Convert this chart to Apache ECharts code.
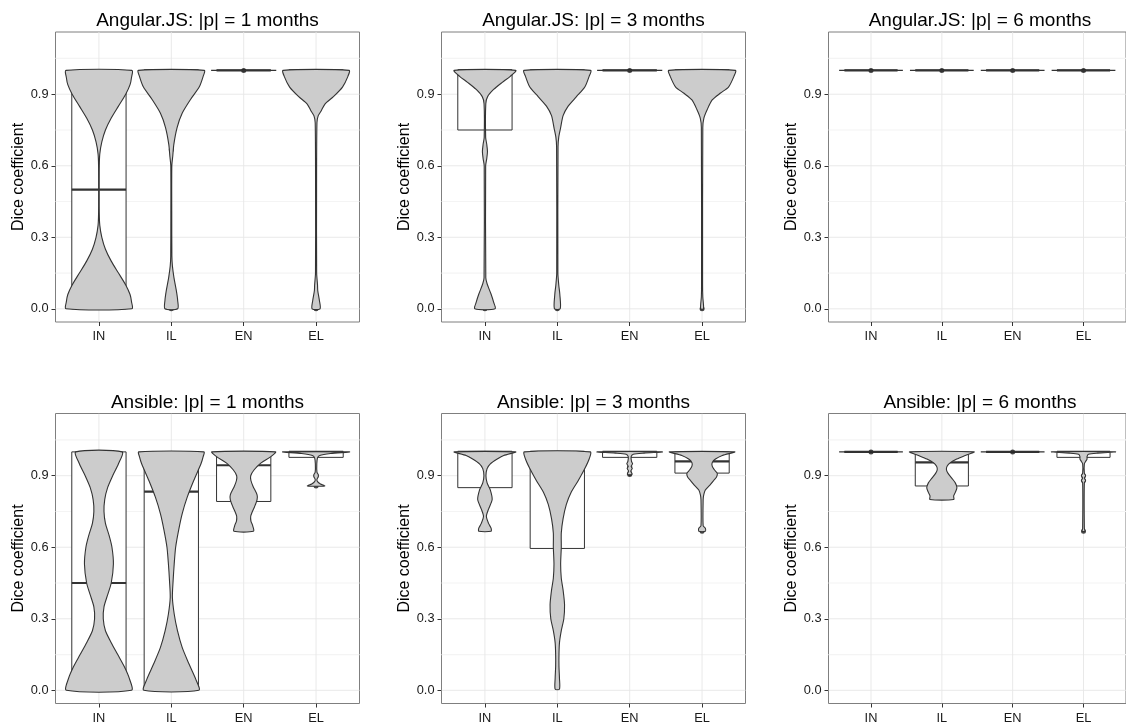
<!DOCTYPE html>
<html>
<head>
<meta charset="utf-8">
<script src="https://cdn.jsdelivr.net/npm/echarts@6/dist/echarts.min.js"></script>
<style>html,body{margin:0;padding:0;background:#fff}#c{width:1126px;height:725px}</style>
</head>
<body>
<div id="c"></div>
<script>
// ---------------- data ----------------
const categories = ['IN', 'IL', 'EN', 'EL'];
const panelTitles = [
  'Angular.JS: |p| = 1 months', 'Angular.JS: |p| = 3 months', 'Angular.JS: |p| = 6 months',
  'Ansible: |p| = 1 months', 'Ansible: |p| = 3 months', 'Ansible: |p| = 6 months'
];
const yTicks = [0, 0.3, 0.6, 0.9];
const yMinor = [0.15, 0.45, 0.75, 1.05];
const yAxisName = 'Dice coefficient';

// violin profiles: [value, half-width in category units]
const collapsed = [[1, 0.45], [1, 0.45]];

const violinAng1 = [
  [[0,0.455],[0.03,0.45],[0.06,0.43],[0.1,0.37],[0.15,0.27],[0.2,0.17],[0.25,0.09],[0.3,0.04],[0.35,0.012],[0.4,0.005],[0.5,0.004],[0.6,0.005],[0.65,0.012],[0.7,0.04],[0.75,0.09],[0.8,0.17],[0.85,0.27],[0.9,0.37],[0.94,0.43],[0.97,0.45],[1,0.455]],
  [[0,0.088],[0.035,0.088],[0.077,0.069],[0.13,0.037],[0.18,0.015],[0.22,0.008],[0.4,0.006],[0.6,0.007],[0.64,0.02],[0.69,0.035],[0.76,0.08],[0.82,0.15],[0.88,0.27],[0.93,0.385],[0.975,0.44],[1,0.455]],
  collapsed,
  [[0,0.055],[0.035,0.046],[0.077,0.023],[0.1,0.02],[0.15,0.008],[0.5,0.007],[0.78,0.012],[0.81,0.03],[0.83,0.07],[0.86,0.125],[0.89,0.24],[0.93,0.365],[0.975,0.44],[1,0.456]]
];
const violinAng3 = [
  [[0,0.14],[0.028,0.12],[0.063,0.083],[0.105,0.03],[0.13,0.012],[0.6,0.01],[0.63,0.025],[0.66,0.035],[0.69,0.025],[0.72,0.01],[0.86,0.012],[0.89,0.037],[0.92,0.12],[0.95,0.24],[0.975,0.35],[1,0.425]],
  [[0,0.04],[0.06,0.035],[0.1,0.02],[0.15,0.008],[0.68,0.01],[0.72,0.02],[0.76,0.046],[0.81,0.08],[0.85,0.15],[0.89,0.265],[0.93,0.38],[0.975,0.44],[1,0.46]],
  collapsed,
  [[0,0.02],[0.05,0.01],[0.1,0.007],[0.76,0.01],[0.8,0.025],[0.835,0.07],[0.876,0.14],[0.905,0.255],[0.93,0.365],[0.975,0.44],[1,0.46]]
];
const violinAng6 = [collapsed, collapsed, collapsed, collapsed];
const violinAns1 = [
  [[0,0.45],[0.05,0.42],[0.1,0.35],[0.15,0.26],[0.2,0.17],[0.25,0.09],[0.3,0.06],[0.35,0.07],[0.4,0.12],[0.45,0.17],[0.53,0.2],[0.6,0.18],[0.65,0.14],[0.7,0.09],[0.75,0.07],[0.8,0.08],[0.85,0.12],[0.9,0.19],[0.95,0.27],[1,0.32]],
  [[0,0.38],[0.045,0.34],[0.11,0.245],[0.18,0.15],[0.25,0.085],[0.32,0.04],[0.39,0.015],[0.46,0.025],[0.53,0.04],[0.6,0.06],[0.67,0.1],[0.74,0.15],[0.81,0.22],[0.88,0.31],[0.95,0.41],[0.98,0.44],[1,0.45]],
  [[0.667,0.135],[0.69,0.125],[0.71,0.1],[0.73,0.097],[0.75,0.12],[0.77,0.15],[0.8,0.185],[0.82,0.185],[0.855,0.13],[0.88,0.1],[0.9,0.097],[0.925,0.145],[0.953,0.236],[0.98,0.375],[1,0.44]],
  [[0.857,0.12],[0.865,0.06],[0.875,0.02],[0.885,0.012],[0.895,0.03],[0.905,0.03],[0.915,0.012],[0.95,0.01],[0.975,0.02],[0.985,0.05],[0.993,0.2],[1,0.46]]
];
const violinAns3 = [
  [[0.667,0.085],[0.68,0.085],[0.7,0.05],[0.73,0.02],[0.76,0.05],[0.8,0.1],[0.84,0.075],[0.87,0.03],[0.9,0.014],[0.93,0.03],[0.95,0.075],[0.97,0.17],[0.985,0.26],[1,0.425]],
  [[0.005,0.03],[0.05,0.03],[0.1,0.023],[0.15,0.023],[0.2,0.03],[0.25,0.055],[0.3,0.09],[0.36,0.1],[0.42,0.08],[0.47,0.055],[0.53,0.046],[0.6,0.055],[0.66,0.055],[0.72,0.08],[0.78,0.125],[0.83,0.19],[0.88,0.29],[0.93,0.38],[0.97,0.44],[1,0.455]],
  [[0.905,0.03],[0.91,0.03],[0.92,0.015],[0.93,0.035],[0.94,0.02],[0.95,0.04],[0.96,0.025],[0.98,0.02],[0.99,0.05],[0.995,0.2],[1,0.45]],
  [[0.667,0.045],[0.68,0.045],[0.69,0.015],[0.8,0.015],[0.82,0.023],[0.84,0.045],[0.86,0.105],[0.88,0.16],[0.895,0.2],[0.91,0.21],[0.925,0.17],[0.94,0.14],[0.955,0.14],[0.97,0.185],[0.985,0.28],[1,0.45]]
];
const violinAns6 = [
  collapsed,
  [[0.8,0.167],[0.815,0.167],[0.83,0.19],[0.85,0.213],[0.87,0.19],[0.89,0.14],[0.91,0.088],[0.925,0.065],[0.94,0.074],[0.955,0.12],[0.97,0.21],[0.985,0.33],[1,0.455]],
  collapsed,
  [[0.667,0.02],[0.68,0.012],[0.87,0.012],[0.88,0.03],[0.89,0.012],[0.9,0.03],[0.91,0.012],[0.95,0.012],[0.96,0.03],[0.97,0.05],[0.98,0.05],[0.99,0.07],[0.995,0.2],[1,0.45]]
];

// box stats per category: [q1, median, q3, whiskerLow, whiskerHigh]
const boxAng1 = [[0,0.5,1,0,1],[1,1,1,1,1],[1,1,1,1,1],[1,1,1,1,1]];
const boxAng3 = [[0.75,1,1,0.667,1],[1,1,1,1,1],[1,1,1,1,1],[1,1,1,1,1]];
const boxAng6 = [[1,1,1,1,1],[1,1,1,1,1],[1,1,1,1,1],[1,1,1,1,1]];
const boxAns1 = [[0,0.45,1,0,1],[0.005,0.833,1,0,1],[0.792,0.944,1,0.667,1],[0.977,1,1,0.955,1]];
const boxAns3 = [[0.85,1,1,0.667,1],[0.595,1,1,0.005,1],[0.977,1,1,0.955,1],[0.911,0.96,1,0.83,1]];
const boxAns6 = [[1,1,1,1,1],[0.857,0.956,1,0.8,1],[1,1,1,1,1],[0.977,1,1,0.95,1]];

// outliers: [category position (1..4), value]
const outAng1 = [[2,0],[2,0.667],[3,1],[4,0]];
const outAng3 = [[1,0],[2,0],[3,1],[4,0]];
const outAng6 = [[1,1],[2,1],[3,1],[4,1]];
const outAns1 = [[4,0.9],[4,0.857]];
const outAns3 = [[3,0.94],[3,0.93],[3,0.91],[3,0.905],[4,0.667]];
const outAns6 = [[1,1],[3,1],[4,0.9],[4,0.88],[4,0.667]];

// ---------------- layout ----------------
const panelViolins = [violinAng1, violinAng3, violinAng6, violinAns1, violinAns3, violinAns6];
const panelBoxes = [boxAng1, boxAng3, boxAng6, boxAns1, boxAns3, boxAns6];
const panelOutliers = [outAng1, outAng3, outAng6, outAns1, outAns3, outAns6];

const colLeft = [55.5, 441.5, 828.5];
const colWidth = [304, 304, 303];
const rowTop = [32, 413.5];
const panelH = 290;
const X_MIN = 0.4, X_MAX = 4.6;
const Y_MIN = -0.0553, Y_MAX = 1.161;
const FONT = '"Liberation Sans", Arial, Helvetica, sans-serif';

const grids = [], xAxes = [], yAxes = [], series = [], graphics = [];

for (let p = 0; p < 6; p++) {
  const r = Math.floor(p / 3), c = p % 3;
  grids.push({
    left: colLeft[c], top: rowTop[r], width: colWidth[c], height: panelH,
    show: true, borderColor: '#7f7f7f', borderWidth: 1, backgroundColor: '#ffffff'
  });
  xAxes.push({
    gridIndex: p, type: 'value', min: X_MIN, max: X_MAX, position: 'bottom',
    axisLine: { show: false, onZero: false },
    axisTick: { show: true, customValues: categories.map((_, i) => i + 1), length: 4, lineStyle: { color: '#333333', width: 1 } },
    axisLabel: { customValues: categories.map((_, i) => i + 1), formatter: v => categories[Math.round(v) - 1] || '', margin: 8, fontSize: 12.8, color: '#1a1a1a', fontFamily: FONT },
    splitLine: { show: false }
  });
  yAxes.push({
    gridIndex: p, type: 'value', min: Y_MIN, max: Y_MAX, position: 'left',
    axisLine: { show: false, onZero: false },
    axisTick: { show: true, customValues: yTicks, length: 4, lineStyle: { color: '#333333', width: 1 } },
    axisLabel: { customValues: yTicks, formatter: v => v.toFixed(1), margin: 7, fontSize: 12.8, color: '#1a1a1a', fontFamily: FONT },
    splitLine: { show: false },
    name: yAxisName, nameLocation: 'middle', nameGap: 27, nameRotate: 90,
    nameTextStyle: { fontSize: 16, color: '#000000', fontFamily: FONT }
  });

  // grid lines (drawn through the axes' scales)
  const lineData = yMinor.map(v => [0, v]).concat(yTicks.map(v => [1, v])).concat(categories.map((_, i) => [2, i + 1]));
  series.push({
    type: 'custom', xAxisIndex: p, yAxisIndex: p, z: 1, silent: true, clip: true,
    data: lineData,
    renderItem: function (params, api) {
      const kind = api.value(0), v = api.value(1);
      let a, b;
      if (kind === 2) { a = api.coord([v, Y_MIN]); b = api.coord([v, Y_MAX]); }
      else { a = api.coord([X_MIN, v]); b = api.coord([X_MAX, v]); }
      return {
        type: 'line', shape: { x1: a[0], y1: a[1], x2: b[0], y2: b[1] },
        style: { stroke: kind === 0 ? '#f4f4f4' : '#e6e6e6', lineWidth: kind === 0 ? 1.2 : 0.9 }
      };
    }
  });

  // boxes
  const boxes = panelBoxes[p];
  series.push({
    type: 'custom', xAxisIndex: p, yAxisIndex: p, z: 2, silent: true, clip: true,
    data: boxes.map((b, i) => [i + 1].concat(b)),
    renderItem: function (params, api) {
      const x = api.value(0), q1 = api.value(1), med = api.value(2), q3 = api.value(3), lo = api.value(4), hi = api.value(5);
      const bw = 0.375;
      const tl = api.coord([x - bw, q3]), br = api.coord([x + bw, q1]);
      const wt1 = api.coord([x, q3]), wt2 = api.coord([x, hi]);
      const wb1 = api.coord([x, q1]), wb2 = api.coord([x, lo]);
      const m1 = api.coord([x - bw, med]), m2 = api.coord([x + bw, med]);
      const stroke = '#333333';
      return {
        type: 'group', children: [
          { type: 'line', shape: { x1: wt1[0], y1: wt1[1], x2: wt2[0], y2: wt2[1] }, style: { stroke, lineWidth: 1 } },
          { type: 'line', shape: { x1: wb1[0], y1: wb1[1], x2: wb2[0], y2: wb2[1] }, style: { stroke, lineWidth: 1 } },
          { type: 'rect', shape: { x: tl[0], y: tl[1], width: br[0] - tl[0], height: br[1] - tl[1] }, style: { fill: '#ffffff', stroke, lineWidth: 1 } },
          { type: 'line', shape: { x1: m1[0], y1: m1[1], x2: m2[0], y2: m2[1] }, style: { stroke, lineWidth: 2.2 } }
        ]
      };
    }
  });

  // outliers
  series.push({
    type: 'scatter', xAxisIndex: p, yAxisIndex: p, z: 3, silent: true,
    symbol: 'circle', symbolSize: 5,
    itemStyle: { color: '#1a1a1a' },
    data: panelOutliers[p]
  });

  // violins
  const profiles = panelViolins[p];
  series.push({
    type: 'custom', xAxisIndex: p, yAxisIndex: p, z: 4, silent: true, clip: true,
    data: categories.map((_, i) => [i + 1, 1]),
    renderItem: function (params, api) {
      const cx = api.value(0);
      const prof = profiles[params.dataIndex];
      const pts = [];
      for (let k = 0; k < prof.length; k++) pts.push(api.coord([cx - prof[k][1], prof[k][0]]));
      for (let k = prof.length - 1; k >= 0; k--) pts.push(api.coord([cx + prof[k][1], prof[k][0]]));
      return {
        type: 'polygon', shape: { points: pts, smooth: 0.25 },
        style: { fill: '#cccccc', stroke: '#333333', lineWidth: 1.1 }
      };
    }
  });

  graphics.push({
    type: 'text', silent: true,
    x: colLeft[c] + colWidth[c] / 2, y: rowTop[r] - 11,
    style: { text: panelTitles[p], textAlign: 'center', textVerticalAlign: 'middle', fontSize: 19, fill: '#000000', fontFamily: FONT }
  });
}

const chart = echarts.init(document.getElementById('c'), null, { renderer: 'canvas' });
chart.setOption({
  animation: false,
  backgroundColor: '#ffffff',
  textStyle: { fontFamily: FONT },
  grid: grids, xAxis: xAxes, yAxis: yAxes, series: series,
  graphic: graphics
});
</script>
</body>
</html>
